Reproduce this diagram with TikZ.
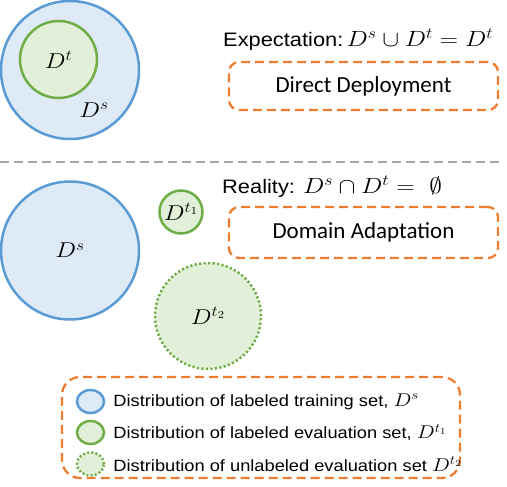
\RequirePackage{fix-cm}
\documentclass[tikz,border=0pt]{standalone}
\usepackage{amsmath}
\usepackage{fontspec}
\setmainfont{Liberation Sans}[FakeStretch=1.12]
\newfontfamily\boxfont{Carlito}
\usetikzlibrary{positioning,shapes.geometric}
\definecolor{srcline}{HTML}{5B9BD5}
\definecolor{srcfill}{HTML}{DEEBF7}
\definecolor{tgtline}{HTML}{70AD47}
\definecolor{tgtfill}{HTML}{E2F0D9}
\definecolor{boxline}{HTML}{ED7D31}
\definecolor{splitgray}{HTML}{A6A6A6}
\newcommand\setsym[1]{\scalebox{1.15}[1]{$#1$}}
\newcommand\headmath[1]{{\fontsize{22}{24}\selectfont\setsym{#1}}}
\newcommand\keymath[1]{{\fontsize{18.5}{20}\selectfont\setsym{#1}}}

\begin{document}
\begin{tikzpicture}[x=1pt,y=-1pt,
    setlabel/.style={font=\fontsize{21.5}{24}\selectfont},
    srcset/.style={circle,draw=srcline,fill=srcfill,line width=2.5pt,inner sep=0pt,setlabel},
    tgtset/.style={circle,draw=tgtline,fill=tgtfill,line width=2.5pt,inner sep=0pt,setlabel},
    unlabset/.style={circle,draw=tgtline,fill=tgtfill,line width=2.5pt,inner sep=0pt,
      dash pattern=on 2.2pt off 2.3pt,setlabel},
    headline/.style={font=\fontsize{19.5}{22}\selectfont,inner sep=0pt},
    methodbox/.style={draw=boxline,rounded corners=10pt,line width=2.3pt,
      dash pattern=on 9pt off 5pt,minimum width=269pt,minimum height=48pt,
      font=\boxfont\fontsize{23}{26}\selectfont},
    keytext/.style={font=\fontsize{16.3}{18}\selectfont,inner sep=0pt,anchor=west}]
  \useasboundingbox (0,0) rectangle (507,487);
  \coordinate (split west) at (0,162);
  \coordinate (split east) at (500,162);

  % expectation
  \node[srcset,minimum size=138pt] (src top) at (70,70) {};
  \node[tgtset,minimum size=77pt] (tgt top) at (58.5,59.5) {};
  \node[setlabel] (tgt top label) at (tgt top) {\setsym{D^t}};
  \node[setlabel] (src top label) at (94,110) {\setsym{D^s}};
  \node[headline,anchor=base west] (expect) at (223,46.5) {Expectation:\,\headmath{D^s\cup D^t=D^t}};
  \node[methodbox] (direct) at (363.5,86) {Direct Deployment};

  \draw[splitgray,line width=2pt,dash pattern=on 9pt off 5pt] (split west) -- (split east);

  % reality
  \node[headline,anchor=base west] (reality) at (222,193.3) {Reality: \headmath{D^s\cap D^t=\ \emptyset}};
  \node[srcset,minimum size=138pt] (src bottom) at (70,250.5) {\setsym{D^s}};
  \node[tgtset,minimum size=43pt] (tgt one) at (181,212) {\setsym{D^{t_1}}};
  \node[unlabset,minimum size=106pt] (tgt two) at (208,316) {\setsym{D^{t_2}}};
  \node[methodbox,minimum height=51pt] (adapt) at (363.5,232.5) {Domain Adaptation};

  % legend
  \node[draw=boxline,rounded corners=18pt,line width=2.3pt,dash pattern=on 9pt off 5pt,
    minimum width=398pt,minimum height=101pt] (legend) at (261,427.5) {};
  \node[srcset,ellipse,minimum width=27pt,minimum height=23pt] (key src) at (90.5,401.5) {};
  \node[tgtset,ellipse,minimum width=27pt,minimum height=23pt] (key tgt one) at (90.5,432.5) {};
  \node[unlabset,ellipse,dash pattern=on 2pt off 2.2pt,minimum width=27pt,minimum height=23pt] (key tgt two) at (90.5,464) {};
  \node[keytext,right=8pt of key src] (key src text) {Distribution of labeled training set, \keymath{D^s}};
  \node[keytext,right=8pt of key tgt one] (key tgt one text) {Distribution of labeled evaluation set, \keymath{D^{t_1}}};
  \node[keytext,right=8pt of key tgt two] (key tgt two text) {Distribution of unlabeled evaluation set \keymath{D^{t_2}}};
\end{tikzpicture}
\end{document}
